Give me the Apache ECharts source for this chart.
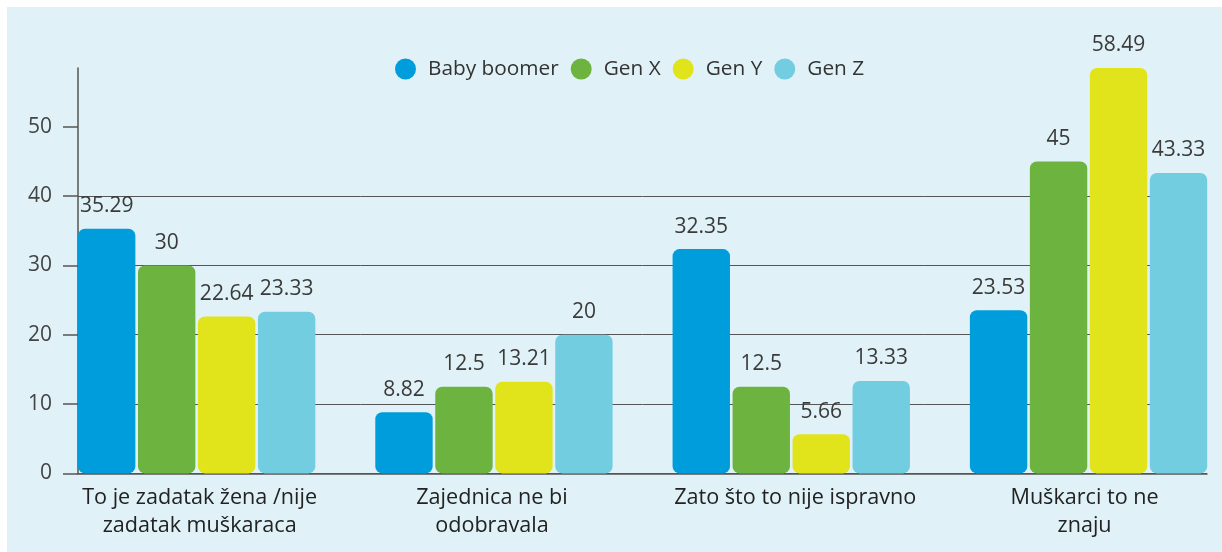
<!DOCTYPE html>
<html>
<head>
<meta charset="utf-8">
<script src="https://cdn.jsdelivr.net/npm/echarts@6/dist/echarts.min.js"></script>
<style>
html,body{margin:0;padding:0;background:#ffffff;width:1222px;height:552px;overflow:hidden;}
#bg{position:absolute;left:7px;top:7px;width:1215px;height:545px;background:#e0f2f7;}
#chart{position:absolute;left:0;top:0;width:1222px;height:552px;}
</style>
</head>
<body>
<div id="bg"></div>
<div id="chart"></div>
<script>
const categories = [
  'To je zadatak žena /nije\nzadatak muškaraca',
  'Zajednica ne bi\nodobravala',
  'Zato što to nije ispravno',
  'Muškarci to ne\nznaju'
];
const seriesNames = ['Baby boomer', 'Gen X', 'Gen Y', 'Gen Z'];
const babyBoomer = [35.29, 8.82, 32.35, 23.53];
const genX = [30, 12.5, 12.5, 45];
const genY = [22.64, 13.21, 5.66, 58.49];
const genZ = [23.33, 20, 13.33, 43.33];
const yTicks = [0, 10, 20, 30, 40, 50];

const colors = ['#009ddc', '#6cb33f', '#e2e41b', '#73cde1'];
const seriesData = [babyBoomer, genX, genY, genZ];
const yMax = Math.max(...seriesData.flat());
const labelShift = [3, -2, 4, -4];

const FONT = '"Open Sans", "Noto Sans", sans-serif';
const TXT = '#333333';

const chart = echarts.init(document.getElementById('chart'), null, {renderer: 'canvas'});
const option = {
  animation: false,
  backgroundColor: 'transparent',
  textStyle: {fontFamily: FONT},
  color: colors,
  legend: {
    data: seriesNames,
    left: 395,
    top: 58.5,
    padding: 0,
    icon: 'circle',
    itemWidth: 21,
    itemHeight: 21,
    itemGap: 12,
    textStyle: {fontFamily: FONT, fontSize: 20.8, color: TXT, padding: [0, 0, 0, 7]}
  },
  grid: [
    {left: 78, right: 15, top: 67.9, bottom: 78.6, outerBoundsMode: 'none'},
    {left: 48, width: 1189.2, top: 67.9, bottom: 78.6, outerBoundsMode: 'none'}
  ],
  xAxis: [
    {
      gridIndex: 0, type: 'value', min: 0, max: 1,
      axisLine: {show: true, onZero: false, lineStyle: {color: '#555555', width: 1.5}},
      axisTick: {show: false}, axisLabel: {show: false}, splitLine: {show: false}
    },
    {
      gridIndex: 1, type: 'category',
      data: categories.map((c, i) => ({
        value: c,
        textStyle: {padding: labelShift[i] > 0 ? [0, 0, 0, 2 * labelShift[i]] : [0, -2 * labelShift[i], 0, 0]}
      })),
      axisLine: {show: false}, axisTick: {show: false},
      axisLabel: {
        interval: 0, fontFamily: FONT, fontSize: 21.6, lineHeight: 27.3,
        color: '#222222', margin: 11, align: 'center'
      }
    }
  ],
  yAxis: [
    {
      gridIndex: 0, type: 'value', min: 0, max: yMax, interval: 10,
      axisLine: {show: true, lineStyle: {color: '#555555', width: 1.5}},
      axisTick: {show: true, length: 15, customValues: yTicks, lineStyle: {color: '#555555', width: 1.5}},
      axisLabel: {customValues: yTicks, fontFamily: FONT, fontSize: 21, color: '#444444', margin: 26},
      splitLine: {show: true, showMaxLine: false, lineStyle: {color: '#555555', width: 1}}
    },
    {
      gridIndex: 1, type: 'value', min: 0, max: yMax,
      show: false
    }
  ],
  series: seriesNames.map((name, i) => ({
    name: name,
    type: 'bar',
    xAxisIndex: 1,
    yAxisIndex: 1,
    data: seriesData[i],
    barWidth: 57.4,
    barGap: '4.5%',
    itemStyle: {color: colors[i], borderRadius: 7},
    label: {
      show: true, position: 'top', distance: 12,
      fontFamily: FONT, fontSize: 21, color: '#3a3a3a'
    }
  }))
};
chart.setOption(option);
</script>
</body>
</html>
